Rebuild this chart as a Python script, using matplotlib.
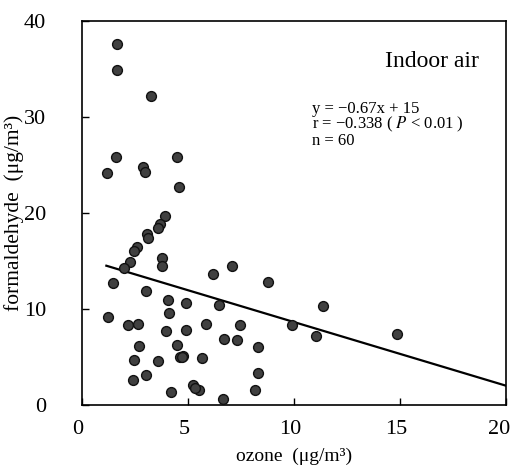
import matplotlib
matplotlib.use("Agg")
import matplotlib.pyplot as plt
import matplotlib.transforms as mtransforms
import numpy as np

ozone = [1.67, 1.67, 3.24, 1.59, 1.18, 2.88, 2.97, 4.47, 4.56, 3.90,
         3.66, 3.57, 3.08, 3.12, 2.60, 2.45, 2.25, 1.97, 3.76, 3.79,
         1.46, 3.00, 4.06, 4.90, 4.09, 1.23, 2.19, 2.66, 3.96, 4.90,
         5.86, 2.67, 4.47, 2.44, 3.60, 4.62, 4.78, 5.68, 2.42, 3.00,
         4.20, 5.25, 5.50, 6.63, 6.16, 7.08, 6.45, 7.45, 6.68, 7.30,
         8.29, 8.32, 8.16, 8.79, 9.92, 11.37, 11.02, 14.87, 5.35, 4.70]
formaldehyde = [37.6, 34.9, 32.2, 25.8, 24.2, 24.8, 24.3, 25.8, 22.7, 19.7,
                18.9, 18.4, 17.8, 17.4, 16.5, 16.0, 14.9, 14.3, 15.3, 14.5,
                12.7, 11.9, 10.9, 10.6, 9.55, 9.17, 8.37, 8.47, 7.7, 7.85,
                8.47, 6.18, 6.25, 4.69, 4.55, 5.0, 5.07, 4.86, 2.57, 3.16,
                1.32, 2.08, 1.53, 0.59, 13.6, 14.5, 10.45, 8.37, 6.9, 6.74,
                6.0, 3.37, 1.53, 12.85, 8.3, 10.3, 7.15, 7.43, 1.8, 5.05]

slope = -0.663
intercept = 15.27
fit_x = [1.15, 20.0]

x_ticks = [0, 5, 10, 15, 20]
y_ticks = [0, 10, 20, 30, 40]

plt.rcParams['font.family'] = ['Liberation Serif', 'DejaVu Serif']
plt.rcParams['mathtext.fontset'] = 'stix'

fig = plt.figure(figsize=(5.14, 4.66), dpi=100)
ax = fig.add_axes([0.1595, 0.1309, 0.8249, 0.8241])

ax.scatter(ozone, formaldehyde, s=50, facecolor='#404040', edgecolor='#111111',
           linewidths=1.0, zorder=3)
fx = np.array(fit_x)
ax.plot(fx, slope * fx + intercept, color='black', lw=1.6, zorder=2)

ax.set_xlim(0, 20)
ax.set_ylim(0, 40)
ax.set_xticks(x_ticks)
ax.set_yticks(y_ticks)
ax.tick_params(direction='in', length=5, width=1.0, labelsize=16)
ax.tick_params(axis='x', pad=11)
ax.tick_params(axis='y', pad=26)
for s in ax.spines.values():
    s.set_linewidth(1.2)

shift = mtransforms.ScaledTranslation(-4 / 100, 0, fig.dpi_scale_trans)
for lab in ax.get_xticklabels():
    lab.set_transform(lab.get_transform() + shift)
last = ax.get_xticklabels()[-1]
last.set_transform(last.get_transform() + mtransforms.ScaledTranslation(-3 / 100, 0, fig.dpi_scale_trans))

ax.set_xlabel('ozone  (μg/m³)', fontsize=14, labelpad=6)
ax.set_ylabel('formaldehyde  (μg/m³)', fontsize=15.5, labelpad=0)

ax.text(0.935, 0.895, 'Indoor air', transform=ax.transAxes, fontsize=17,
        ha='right', va='center')
ax.text(0.543, 0.772, 'y = −0.67x + 15', transform=ax.transAxes, fontsize=12,
        ha='left', va='center')
ax.text(0.543, 0.730, 'r = −0.338 ( $P$ < 0.01 )', transform=ax.transAxes, fontsize=12,
        ha='left', va='center')
ax.text(0.543, 0.687, 'n = 60', transform=ax.transAxes, fontsize=12,
        ha='left', va='center')

fig.savefig('out.png', dpi=100)
